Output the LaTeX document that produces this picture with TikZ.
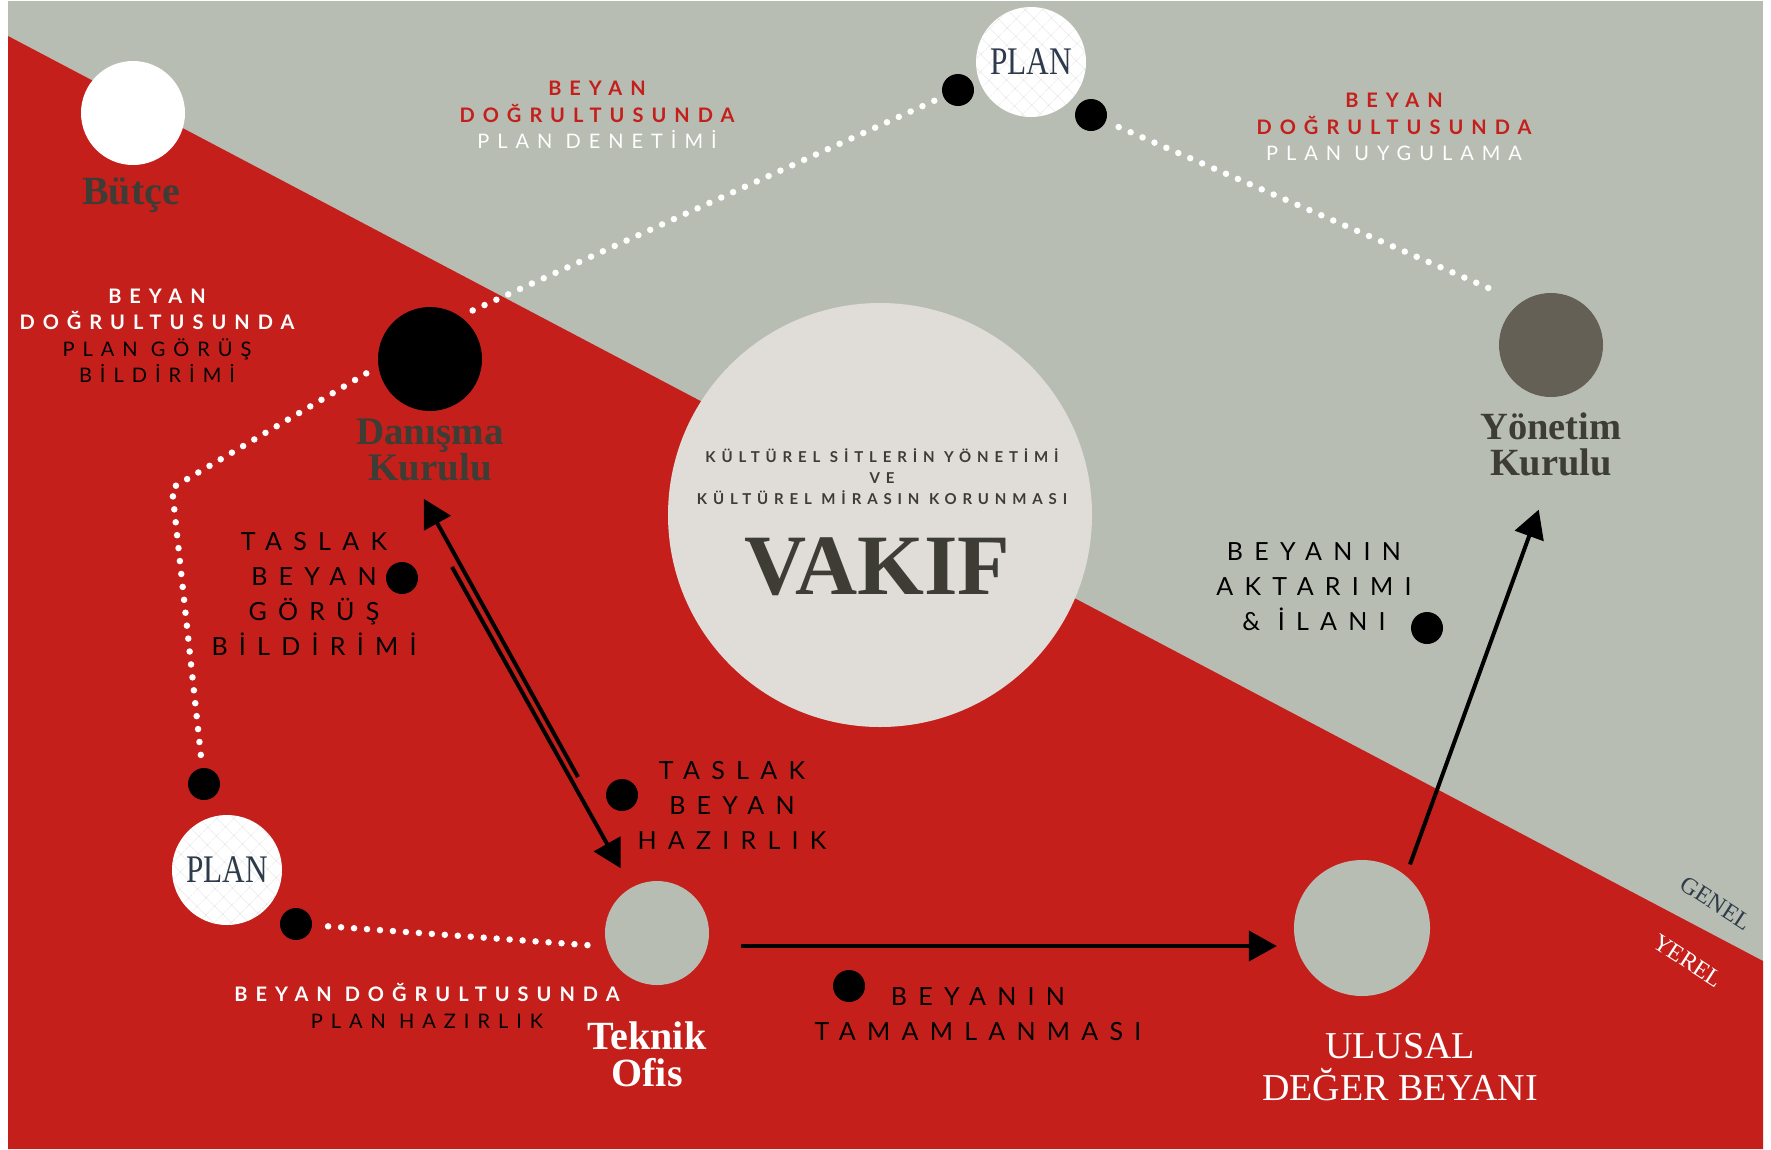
\documentclass[tikz,border=0pt]{standalone}
\usepackage{fontspec}
\setmainfont{Liberation Serif}
\newfontfamily\tagfont[LetterSpace=45]{Lato}
\newfontfamily\notefont[LetterSpace=40]{Lato}
\newfontfamily\subfont[LetterSpace=39]{Lato}
\usetikzlibrary{arrows.meta,patterns.meta}
\definecolor{txt}{HTML}{3D3C35}
\definecolor{gyBg}{HTML}{B8BDB3}
\definecolor{rdBg}{HTML}{C41F1B}
\definecolor{vkF}{HTML}{E0DDD9}
\definecolor{ynF}{HTML}{646055}
\definecolor{plT}{HTML}{2E3B4A}

\begin{document}
\begin{tikzpicture}[
  x=1pt,y=-1pt,
  disc/.style={circle,inner sep=0pt,minimum size=104pt},
  bdot/.style={circle,fill=black,inner sep=0pt,minimum size=32pt},
  plan/.style={disc,minimum size=110pt,preaction={fill=white},pattern={Hatch[angle=45,distance=13pt,line width=0.5pt]},pattern color=black!12,text=plT,font=\fontsize{34}{34}\selectfont},
  ttl/.style={align=center,inner sep=0pt,text=txt,font=\bfseries\fontsize{39}{34}\selectfont},
  tag/.style={align=center,inner sep=0pt,text=black,font=\tagfont\fontsize{25}{35}\selectfont},
  note/.style={align=center,inner sep=0pt,text=black,font=\notefont\fontsize{20}{26.5}\selectfont},
  dots/.style={white,line width=6.5pt,line cap=round,dash pattern=on 0pt off 13pt},
  arr/.style={line width=4pt,-{Triangle[length=28pt,width=30pt]}},
  ]

% ---- background ----
\useasboundingbox (0,0) rectangle (1771,1149);
\fill[gyBg] (8,1) rectangle (1763,1149);
\fill[rdBg] (8,36) -- (1763,961) -- (1763,1149) -- (8,1149) -- cycle;

% ---- circles ----
\node[disc,fill=white] (butce) at (133,113) {};
\node[disc,fill=black] (dan) at (430,359) {};
\node[disc,fill=ynF] (yon) at (1551,345) {};
\node[disc,fill=gyBg] (tek) at (657,933) {};
\node[disc,fill=gyBg,minimum size=136pt] (ulu) at (1362,928) {};
\node[disc,fill=vkF,minimum size=424pt] (vakif) at (880,515) {};
\node[plan] (planT) at (1031,62) {\scalebox{0.92}[1.15]{PLAN}};
\node[plan] (planL) at (227,870) {\scalebox{0.92}[1.15]{PLAN}};

% ---- small dots ----
\node[bdot] (pdotA) at (958,90) {};
\node[bdot] (pdotB) at (1091,115) {};
\node[bdot] (ldot) at (204,784) {};
\node[bdot] (rdot) at (296,924) {};
\node[bdot] (gdot) at (402,578) {};
\node[bdot] (hdot) at (622,795) {};
\node[bdot] (adot) at (1427,628) {};
\node[bdot] (tdot) at (849,986) {};

% ---- names ----
\node[ttl,font=\bfseries\fontsize{40}{40}\selectfont] (butceL) at (131,195) {Bütçe};
\node[ttl] (danL) at (430,450) {Danışma\\Kurulu};
\node[ttl,font=\bfseries\fontsize{38.5}{36}\selectfont] (yonL) at (1551,444) {Yönetim\\Kurulu};
\node[ttl,text=white,font=\bfseries\fontsize{40}{37}\selectfont] (tekL) at (647,1054) {Teknik\\Ofis};
\node[ttl,text=white,font=\fontsize{38}{42}\selectfont] (uluL) at (1400,1067) {ULUSAL\\DEĞER BEYANI};
\node[note,text=txt,font=\subfont\bfseries\fontsize{15}{21}\selectfont] (vkSub) at (882,477) {KÜLTÜREL SİTLERİN YÖNETİMİ\\VE\\KÜLTÜREL MİRASIN KORUNMASI};
\node[ttl,font=\bfseries\fontsize{86}{86}\selectfont] (vkT) at (877,567) {VAKIF};
\node[rotate=-33,text=plT,font=\fontsize{24}{24}\selectfont] (genel) at (1716,903) {GENEL};
\node[rotate=-33,text=white,font=\fontsize{24}{24}\selectfont] (yerel) at (1688,961) {YEREL};

% ---- step texts ----
\node[note] (denL) at (597,115) {\textcolor{rdBg}{\bfseries BEYAN}\\\textcolor{rdBg}{\bfseries DOĞRULTUSUNDA}\\\textcolor{white}{PLAN DENETİMİ}};
\node[note] (uygL) at (1394,127) {\textcolor{rdBg}{\bfseries BEYAN}\\\textcolor{rdBg}{\bfseries DOĞRULTUSUNDA}\\\textcolor{white}{PLAN UYGULAMA}};
\node[note] (gorL) at (157,336) {\textcolor{white}{\bfseries BEYAN}\\\textcolor{white}{\bfseries DOĞRULTUSUNDA}\\PLAN GÖRÜŞ\\BİLDİRİMİ};
\node[note] (hazL) at (427,1006) {\textcolor{white}{\bfseries BEYAN DOĞRULTUSUNDA}\\PLAN HAZIRLIK};
\node[tag] (tgL) at (314,594) {TASLAK\\BEYAN\\GÖRÜŞ\\BİLDİRİMİ};
\node[tag] (thL) at (732,805) {TASLAK\\BEYAN\\HAZIRLIK};
\node[tag] (akL) at (1314,587) {BEYANIN\\AKTARIMI\\\& İLANI};
\node[tag] (tmL) at (978,1014) {BEYANIN\\TAMAMLANMASI};

% ---- dotted links ----
\coordinate (bend) at (172,488);
\draw[dots,shorten <=14pt,shorten >=8pt] (dan.55) -- (pdotA);
\draw[dots,shorten <=14pt,shorten >=28pt] (pdotB) -- (yon.125);
\draw[dots,shorten <=14pt,shorten >=8pt] (dan.188) -- (bend) -- (ldot);
\draw[dots,shorten <=16pt,shorten >=16pt] (rdot) -- (tek.195);

% ---- arrows ----
\coordinate (upS) at (578,777);
\coordinate (dnS) at (452,567);
\draw[arr,shorten >=20pt] (upS) -- (danL.-117);
\draw[arr,shorten >=22pt] (dnS) -- (tek);
\draw[arr,shorten <=32pt,shorten >=17pt] ([yshift=-13pt]tek.east) -- ([yshift=-18pt]ulu.west);
\draw[arr,shorten <=12pt,shorten >=36pt] (ulu.50) -- (yonL.south);

\end{tikzpicture}
\end{document}
